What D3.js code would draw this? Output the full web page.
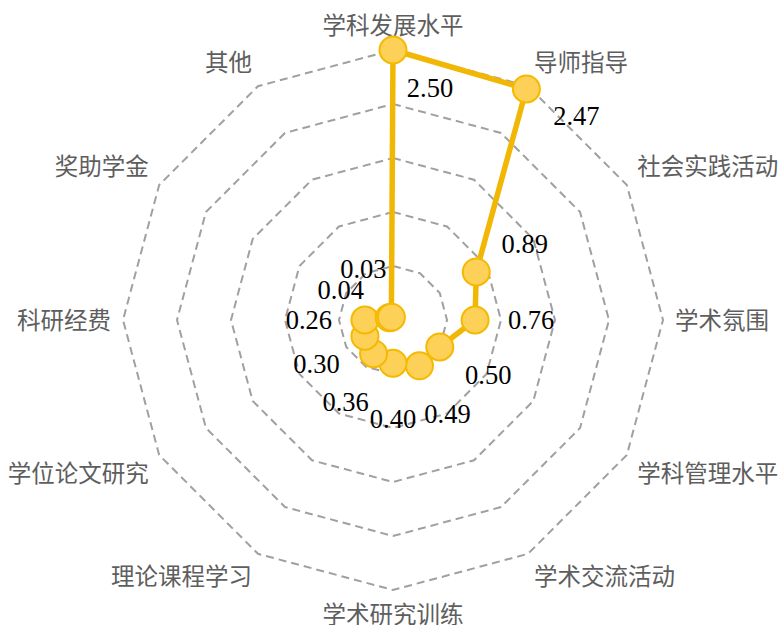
<!DOCTYPE html>
<html>
<head>
<meta charset="utf-8">
<script src="https://cdn.jsdelivr.net/npm/d3@7"></script>
<style>
  html, body { margin: 0; padding: 0; background: #ffffff; }
  svg { display: block; }
</style>
</head>
<body>
<div id="chart"></div>
<script>
// ---- data ----
const categories = ["学科发展水平", "导师指导", "社会实践活动", "学术氛围", "学科管理水平", "学术交流活动",
                    "学术研究训练", "理论课程学习", "学位论文研究", "科研经费", "奖助学金", "其他"];
const values = [2.50, 2.47, 0.89, 0.76, 0.50, 0.49, 0.40, 0.36, 0.30, 0.26, 0.04, 0.03];
const ringTicks = [0.5, 1.0, 1.5, 2.0, 2.5];
const valueMax = 2.5;

// ---- layout ----
const W = 780, H = 625;
const cx = 393, cy = 320, R = 270;
const nameGap = 12;
const labelGap = 56;
const catFont = 23.5, numFont = 26.5;

const svg = d3.select("#chart").append("svg")
  .attr("width", W).attr("height", H);
const g = svg.append("g").attr("transform", `translate(${cx},${cy})`);

const r = d3.scaleLinear().domain([0, valueMax]).range([0, R]);
const angle = d3.scalePoint().domain(d3.range(categories.length))
  .range([0, 2 * Math.PI * (categories.length - 1) / categories.length]);

const px = (a, rad) => rad * Math.sin(a);
const py = (a, rad) => -rad * Math.cos(a);

// rings
const ringLine = d3.lineRadial()
  .angle(i => angle(i))
  .curve(d3.curveLinearClosed);
g.append("g").selectAll("path").data(ringTicks).join("path")
  .attr("d", t => ringLine.radius(() => r(t))(d3.range(categories.length)))
  .attr("fill", "none")
  .attr("stroke", "#a0a0a0")
  .attr("stroke-width", 2)
  .attr("stroke-dasharray", "8,5");

// category labels
g.append("g").selectAll("text").data(categories).join("text")
  .text(d => d)
  .each(function(d, i) {
    const a = angle(i);
    const rad = R + nameGap;
    const s = Math.sin(a), c = Math.cos(a);
    const x = px(a, rad), y = py(a, rad);
    let anchor = Math.abs(s) < 0.01 ? "middle" : (s > 0 ? "start" : "end");
    let dy;
    if (Math.abs(c) < 0.01) dy = 8.5;       // middle
    else if (c > 0) dy = -4.5;              // above: bottom aligned
    else dy = 20.5;                          // below: top aligned
    d3.select(this)
      .attr("x", x).attr("y", y + dy)
      .attr("text-anchor", anchor);
  })
  .attr("font-family", "'Noto Sans CJK SC', sans-serif")
  .attr("font-size", catFont)
  .attr("fill", "#5e5e5e");

// series line
const seriesLine = d3.lineRadial()
  .angle((d, i) => angle(i))
  .radius(d => r(d))
  .curve(d3.curveLinearClosed);
g.append("path")
  .datum(values)
  .attr("d", seriesLine)
  .attr("fill", "none")
  .attr("stroke", "#F2B705")
  .attr("stroke-width", 5.5)
  .attr("stroke-linejoin", "round");

// points
g.append("g").selectAll("circle").data(values).join("circle")
  .attr("cx", (d, i) => px(angle(i), r(d)))
  .attr("cy", (d, i) => py(angle(i), r(d)))
  .attr("r", 13.5)
  .attr("fill", "#FDD157")
  .attr("stroke", "#F5B901")
  .attr("stroke-width", 2);

// value labels
const labelOffsets = { 0: [37, 38], 1: [50, 27] }; // labels that would fall outside the rings
g.append("g").selectAll("text").data(values).join("text")
  .text(d => d.toFixed(2))
  .each(function(d, i) {
    const a = angle(i);
    let x, y;
    if (labelOffsets[i]) {
      x = px(a, r(d)) + labelOffsets[i][0];
      y = py(a, r(d)) + labelOffsets[i][1];
    } else {
      x = px(a, r(d) + labelGap);
      y = py(a, r(d) + labelGap);
    }
    d3.select(this).attr("x", x).attr("y", y + numFont * 0.34);
  })
  .attr("text-anchor", "middle")
  .attr("font-family", "'Liberation Serif', 'Times New Roman', serif")
  .attr("font-size", numFont)
  .attr("fill", "#000");
</script>
</body>
</html>
